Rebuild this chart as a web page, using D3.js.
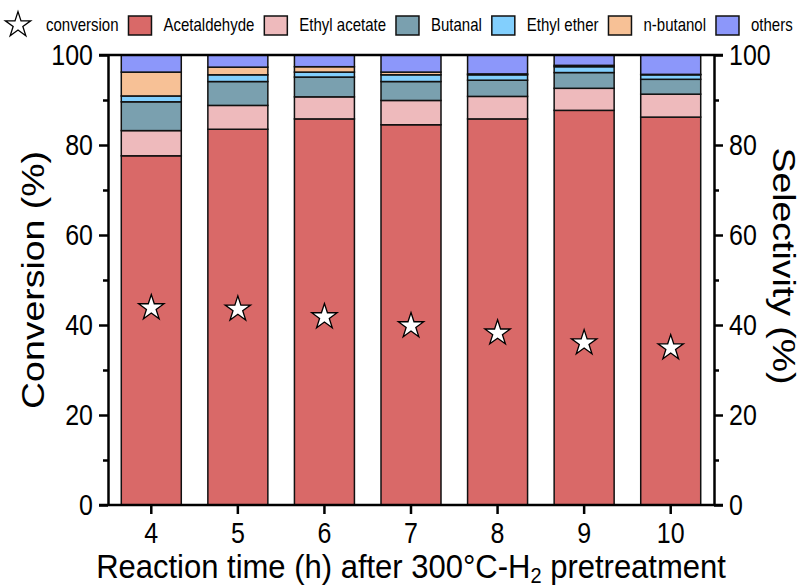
<!DOCTYPE html>
<html>
<head>
<meta charset="utf-8">
<script src="https://cdn.jsdelivr.net/npm/d3@7"></script>
<style>
  body { margin: 0; background: #fff; }
  svg { display: block; font-family: "Liberation Sans", Arial, sans-serif; }
</style>
</head>
<body>
<div id="chart"></div>
<script>
const hours = [4, 5, 6, 7, 8, 9, 10]
const conversion = [43.8, 43.5, 41.8, 39.8, 38.2, 36.0, 34.9]
const acetaldehyde = [77.6, 83.5, 85.8, 84.5, 85.8, 87.7, 86.2]
const ethylAcetate = [5.6, 5.3, 4.9, 5.4, 5.0, 4.9, 5.1]
const butanal = [6.4, 5.3, 4.4, 4.2, 3.6, 3.5, 3.3]
const ethylEther = [1.3, 1.5, 1.1, 1.5, 1.2, 1.3, 1.0]
const nButanol = [5.3, 1.7, 1.2, 0.6, 0.2, 0.3, 0.1]
const others = [3.8, 2.7, 2.6, 3.8, 4.2, 2.3, 4.3]
const yTicks = [0, 20, 40, 60, 80, 100]

const seriesNames = ["Acetaldehyde", "Ethyl acetate", "Butanal", "Ethyl ether", "n-butanol", "others"]
const seriesValues = [acetaldehyde, ethylAcetate, butanal, ethylEther, nButanol, others]
const colors = ["#D96968", "#EEBABC", "#7AA0AF", "#82CFFD", "#F7C196", "#8C97FA"]

const width = 802, height = 588
const marginLeft = 108, marginRight = 88, marginTop = 55, marginBottom = 83
const stretch = 1.17 // glyphs in the original are a bit taller than wide

// one row per hour, columns per product
const table = hours.map((h, i) => {
    const row = {hour: h}
    seriesNames.forEach((k, j) => row[k] = seriesValues[j][i])
    return row
})
const stacked = d3.stack().keys(seriesNames)(table)

const x = d3.scaleBand(hours, [marginLeft, width - marginRight])
    .paddingInner(0.307)
    .paddingOuter(0.1535)
const y = d3.scaleLinear([0, 100], [height - marginBottom, marginTop])

const svg = d3.select("#chart").append("svg")
    .attr("width", width)
    .attr("height", height)
    .attr("viewBox", [0, 0, width, height])

// bars
svg.append("g")
    .selectAll("g")
    .data(stacked)
    .join("g")
    .attr("fill", (d, i) => colors[i])
    .selectAll("rect")
    .data(d => d)
    .join("rect")
    .attr("x", d => x(d.data.hour))
    .attr("y", d => y(d[1]))
    .attr("height", d => y(d[0]) - y(d[1]))
    .attr("width", x.bandwidth())
    .attr("stroke", "#111")
    .attr("stroke-width", 1.5)

// conversion stars
const star = d3.symbol(d3.symbolStar, 200)
svg.append("g")
    .selectAll("path")
    .data(hours)
    .join("path")
    .attr("d", star)
    .attr("transform", (h, i) => `translate(${x(h) + x.bandwidth() / 2},${y(conversion[i])})`)
    .attr("fill", "#fff")
    .attr("stroke", "#000")
    .attr("stroke-width", 1.3)

// axes
const minor = d3.range(10, 100, 20)
const axisStyle = g => {
    g.selectAll("line, path").attr("stroke", "#000").attr("stroke-width", 2.5)
    g.selectAll("text").attr("font-size", 25).attr("fill", "#000")
        .attr("font-family", "Liberation Sans, Arial, sans-serif")
        .attr("transform", `scale(1,${stretch})`)
}

svg.append("g")
    .attr("transform", `translate(${marginLeft},0)`)
    .call(d3.axisLeft(y).tickValues(yTicks).tickSize(9).tickSizeOuter(0).tickPadding(6))
    .call(axisStyle)
svg.append("g")
    .attr("transform", `translate(${marginLeft},0)`)
    .call(d3.axisLeft(y).tickValues(minor).tickSize(5).tickSizeOuter(0).tickFormat(""))
    .call(axisStyle)
    .call(g => g.select(".domain").remove())

svg.append("g")
    .attr("transform", `translate(${width - marginRight},0)`)
    .call(d3.axisRight(y).tickValues(yTicks).tickSize(9).tickSizeOuter(0).tickPadding(6))
    .call(axisStyle)
svg.append("g")
    .attr("transform", `translate(${width - marginRight},0)`)
    .call(d3.axisRight(y).tickValues(minor).tickSize(5).tickSizeOuter(0).tickFormat(""))
    .call(axisStyle)
    .call(g => g.select(".domain").remove())

svg.append("g")
    .attr("transform", `translate(0,${height - marginBottom})`)
    .call(d3.axisBottom(x).tickSize(9).tickSizeOuter(0).tickPadding(6))
    .call(axisStyle)
    .call(g => g.select(".domain").attr("d", `M${marginLeft - 9},0H${width - marginRight + 9}`))

// top frame line
svg.append("line")
    .attr("x1", marginLeft - 9).attr("x2", width - marginRight + 9)
    .attr("y1", marginTop).attr("y2", marginTop)
    .attr("stroke", "#000").attr("stroke-width", 2.5)

// axis titles
svg.append("text")
    .attr("transform", `translate(44,280) scale(1,${stretch}) rotate(-90)`)
    .attr("text-anchor", "middle")
    .attr("font-size", 32)
    .text("Conversion (%)")
svg.append("text")
    .attr("transform", `translate(773,266) scale(1,${stretch}) rotate(90)`)
    .attr("text-anchor", "middle")
    .attr("font-size", 32)
    .text("Selectivity (%)")

const xt = svg.append("text")
    .attr("transform", `translate(${(marginLeft + width - marginRight) / 2},578) scale(1,1.08)`)
    .attr("text-anchor", "middle")
    .attr("font-size", 31)
xt.append("tspan").text("Reaction time (h) after 300°C-H")
xt.append("tspan").attr("font-size", 20).attr("dy", 5).text("2")
xt.append("tspan").attr("dy", -5).text(" pretreatment")

// legend
const legend = svg.append("g").attr("font-size", 15)
legend.append("path")
    .attr("d", star)
    .attr("transform", "translate(18,25)")
    .attr("fill", "#fff").attr("stroke", "#000").attr("stroke-width", 1.3)
let lx = 46
const t0 = legend.append("text")
    .attr("transform", `translate(${lx},31) scale(1,${stretch})`)
    .text("conversion")
lx += t0.node().getComputedTextLength() + 10
seriesNames.forEach((name, i) => {
    legend.append("rect")
        .attr("x", lx).attr("y", 16).attr("width", 23).attr("height", 19)
        .attr("fill", colors[i]).attr("stroke", "#111").attr("stroke-width", 1.5)
    const t = legend.append("text")
        .attr("transform", `translate(${lx + 35},31) scale(1,${stretch})`)
        .text(name)
    lx += 35 + t.node().getComputedTextLength() + 10
})
</script>
</body>
</html>
